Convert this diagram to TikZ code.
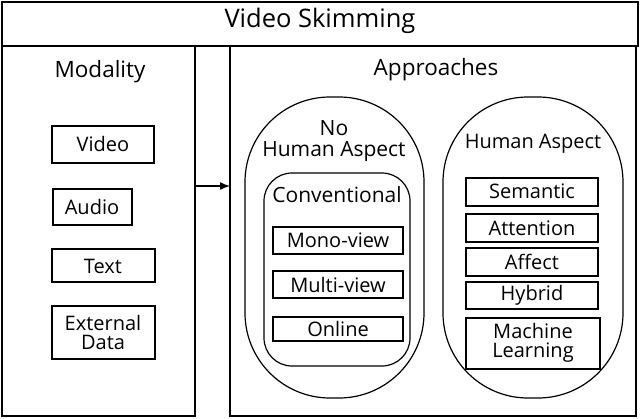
\documentclass[tikz,border=0pt]{standalone}
\usepackage{fontspec}
\usetikzlibrary{arrows.meta}
\setmainfont{Open Sans}
\begin{document}
\begin{tikzpicture}[x=1pt,y=-1pt,line width=1.6pt,
 lbl/.style={font=\fontsize{20}{22}\selectfont,align=center},
 big/.style={font=\fontsize{22.5}{25}\selectfont,align=center}]
\useasboundingbox (0,0) rectangle (640,418);
\draw (2,2) rectangle (638,46);
\node[big,font=\fontsize{25.5}{28}\selectfont] (title) at (320,21) {Video Skimming};
\draw (2,46) rectangle (195,416);
\node[big] (mod) at (100,72) {Modality};
\draw (230,46) rectangle (636,416);
\node[big] (app) at (436,70) {Approaches};
\draw[line width=1.2pt] (52,126) rectangle (154,163); \node[lbl] (v) at (103,144) {Video};
\draw[line width=1.2pt] (53,189) rectangle (132,225); \node[lbl] (a) at (92,207) {Audio};
\draw[line width=1.2pt] (52,249) rectangle (155,282); \node[lbl] (t) at (103,266) {Text};
\draw[line width=1.2pt] (52,306) rectangle (155,359); \node[lbl] (e) at (103,332) {External\\[-3pt]Data};
\coordinate (s) at (195,186); \coordinate (d) at (230,186);
\draw[-{Latex[length=10pt,width=8pt]},line width=1.4pt] (s) -- (d);
\draw[line width=1.2pt,rounded corners=85pt] (245,97) rectangle (424,398);
\node[lbl,font=\fontsize{21}{24}\selectfont] (nh) at (334,141) {No\\[-3pt]Human Aspect};
\draw[line width=1.2pt,rounded corners=28pt] (264,173) rectangle (410,366);
\node[lbl,font=\fontsize{21}{24}\selectfont] (conv) at (337,195) {Conventional};
\draw[line width=1.2pt] (273,227) rectangle (403,254); \node[lbl] (m1) at (338,240) {Mono-view};
\draw[line width=1.2pt] (273,271) rectangle (403,298); \node[lbl] (m2) at (338,285) {Multi-view};
\draw[line width=1.2pt] (273,317) rectangle (403,341); \node[lbl] (on) at (338,329) {Online};
\draw[line width=1.2pt,rounded corners=85pt] (443,97) rectangle (623,398);
\node[lbl] (ha) at (533,144) {Human Aspect};
\draw[line width=1.2pt] (466,178) rectangle (598,206); \node[lbl] (se) at (532,191) {Semantic};
\draw[line width=1.2pt] (466,214) rectangle (598,242); \node[lbl] (at) at (532,228) {Attention};
\draw[line width=1.2pt] (466,248) rectangle (598,276); \node[lbl] (af) at (532,262) {Affect};
\draw[line width=1.2pt] (466,282) rectangle (598,309); \node[lbl] (hy) at (532,295) {Hybrid};
\draw[line width=1.2pt] (466,318) rectangle (600,369); \node[lbl] (ml) at (533,343) {Machine\\[-3pt]Learning};
\end{tikzpicture}
\end{document}
